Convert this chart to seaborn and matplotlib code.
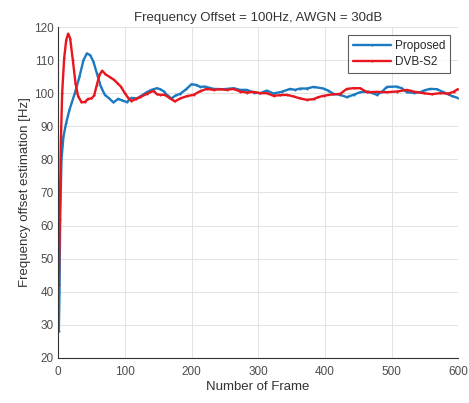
import pandas as pd
import matplotlib
matplotlib.use("Agg")
import matplotlib.pyplot as plt
import seaborn as sns

# frequency offset estimate per frame
prop_frame = [1, 2, 3, 5, 8, 12, 17, 25, 32, 38, 43, 48, 53, 58, 64, 70, 76, 83, 90, 96,
              103, 110, 118, 126, 133, 140, 148, 153, 158, 164, 170, 176, 183, 192, 200,
              207, 213, 220, 233, 248, 263, 273, 283, 293, 303, 313, 323, 335, 348, 355,
              363, 373, 383, 398, 405, 413, 423, 433, 443, 453, 465, 478, 486, 493, 508,
              515, 523, 533, 543, 550, 558, 568, 578, 590, 600]
prop_hz = [28, 40, 62, 80, 87, 91, 95, 100, 105, 110, 112, 111.5, 109.5, 106, 102, 99.5,
           98.5, 97.2, 98.3, 97.8, 97.3, 98.6, 98.4, 99.4, 100.3, 101, 101.5, 101.2, 100.6,
           99.3, 98.4, 99.3, 99.8, 101.2, 102.7, 102.5, 101.9, 102, 101.3, 101.2, 101.5,
           101, 101, 100.2, 100, 100.8, 99.9, 100.4, 101.3, 101, 101.4, 101.4, 101.9, 101.4,
           100.8, 99.8, 99.5, 98.8, 99.5, 100.3, 100.5, 99.5, 100.5, 101.9, 102, 101.5,
           100.3, 100.1, 100.3, 100.9, 101.3, 101.2, 100.3, 99.2, 98.5]

dvb_frame = [1, 2, 4, 6, 9, 12, 15, 18, 22, 26, 30, 35, 40, 45, 50, 54, 58, 62, 66, 71,
             78, 84, 88, 94, 100, 105, 110, 116, 123, 133, 143, 148, 153, 160, 168, 175,
             183, 193, 203, 213, 223, 233, 243, 253, 263, 273, 283, 293, 303, 313, 323,
             333, 343, 353, 363, 373, 383, 390, 398, 410, 423, 433, 443, 453, 463, 478,
             493, 508, 523, 535, 548, 560, 573, 585, 593, 600]
dvb_hz = [42, 55, 85, 100, 110.5, 116, 118, 116.5, 110, 103, 99, 97.3, 97.3, 98.3, 98.4,
          99.3, 102.5, 105.5, 106.8, 105.7, 104.8, 104, 103.2, 102, 100, 98.6, 97.6, 98.2,
          98.8, 99.8, 100.7, 99.7, 99.5, 99.5, 98.4, 97.5, 98.4, 99.1, 99.5, 100.6, 101.3,
          101, 101.2, 101, 101.3, 100.5, 100.2, 100.4, 100, 100, 99.2, 99.4, 99.5, 99,
          98.4, 98, 98.2, 98.8, 99.2, 99.6, 99.8, 101.3, 101.5, 101.5, 100.3, 100.4, 100.3,
          100.5, 101, 100.4, 100, 99.7, 100, 99.9, 100.4, 101.3]

df = pd.concat([
    pd.DataFrame({"frame": prop_frame, "hz": prop_hz, "method": "Proposed"}),
    pd.DataFrame({"frame": dvb_frame, "hz": dvb_hz, "method": "DVB-S2"}),
], ignore_index=True)

sns.set_style("white")
plt.rcParams["font.family"] = ["Liberation Sans", "DejaVu Sans"]

fig = plt.figure(figsize=(4.69, 4.03), dpi=100)
ax = fig.add_axes([0.124, 0.112, 0.853, 0.821])

colors = {"Proposed": "#1c7ac0", "DVB-S2": "#e8161e"}
sns.lineplot(data=df, x="frame", y="hz", hue="method", palette=colors, ax=ax,
             linewidth=1.7, marker=".", markersize=3, markeredgewidth=0, sort=False)

ax.set_xlim(0, 600)
ax.set_ylim(20, 120)
ax.set_xticks(range(0, 601, 100))
ax.set_yticks(range(20, 121, 10))
ax.grid(True, color="#e3e3e3", linewidth=0.7)
ax.tick_params(direction="in", length=3, labelsize=8.5, colors="#4d4d4d")
ax.tick_params(axis="x", pad=6)
ax.tick_params(axis="y", pad=3)
for s in ["top", "right"]:
    ax.spines[s].set_visible(False)
for s in ["left", "bottom"]:
    ax.spines[s].set_color("#333333")
    ax.spines[s].set_linewidth(0.8)

ax.set_title("Frequency Offset = 100Hz, AWGN = 30dB", fontsize=9.5, color="#333333", pad=4)
ax.set_xlabel("Number of Frame", fontsize=9.5, color="#333333", labelpad=2)
ax.set_ylabel("Frequency offset estimation [Hz]", fontsize=9.5, color="#333333", labelpad=2)

leg = ax.legend(loc="upper right", fontsize=8.5, frameon=True, fancybox=False,
                edgecolor="#333333", borderpad=0.45, handlelength=3.2, handletextpad=0.3,
                labelspacing=0.3, borderaxespad=0, bbox_to_anchor=(0.98, 0.976))
leg.get_frame().set_linewidth(0.8)

fig.savefig("out.png", dpi=100)
